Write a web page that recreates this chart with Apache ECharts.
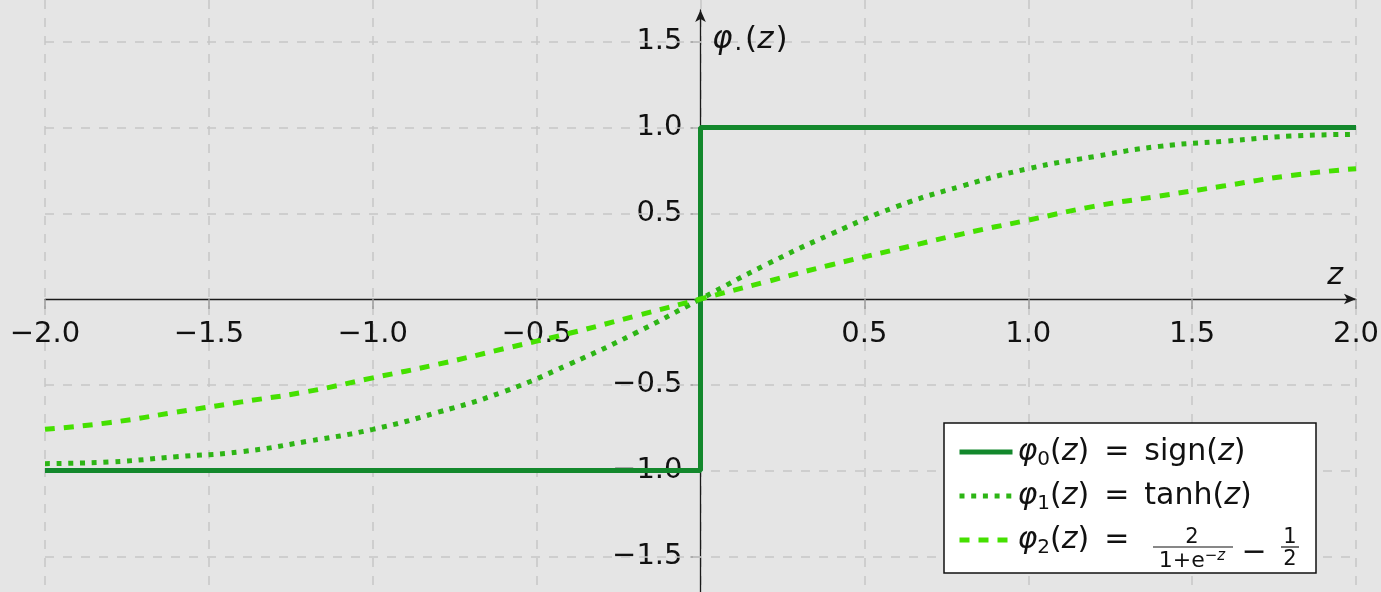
<!DOCTYPE html>
<html>
<head>
<meta charset="utf-8">
<script src="https://cdn.jsdelivr.net/npm/echarts@6/dist/echarts.min.js"></script>
<style>
html, body { margin: 0; padding: 0; background: #e5e5e5; }
#chart { width: 1381px; height: 592px; }
</style>
</head>
<body>
<div id="chart"></div>
<script>
// 数据
var zValues = [-2.0, -1.8, -1.6, -1.4, -1.2, -1.0, -0.8, -0.6, -0.4, -0.2, 0.0,
               0.2, 0.4, 0.6, 0.8, 1.0, 1.2, 1.4, 1.6, 1.8, 2.0];
var tanhValues = [-0.96, -0.95, -0.92, -0.89, -0.83, -0.76, -0.66, -0.54, -0.38, -0.20, 0.00,
                  0.20, 0.38, 0.54, 0.66, 0.76, 0.83, 0.89, 0.92, 0.95, 0.96];
var logisticValues = [-0.76, -0.72, -0.66, -0.60, -0.54, -0.46, -0.38, -0.29, -0.20, -0.10, 0.00,
                      0.10, 0.20, 0.29, 0.38, 0.46, 0.54, 0.60, 0.66, 0.72, 0.76];
var signZ = [-2, 0, 0, 2];
var signValues = [-1, -1, 1, 1];
var yTicks = [-1.5, -1.0, -0.5, 0.5, 1.0, 1.5];
var seriesNames = ['sign', 'tanh', 'logistic'];

var FONT = 'DejaVu Sans';
var TXT = '#111';
var GRIDLINE = { color: '#c6c6c6', width: 1.5, type: [9, 9] };
var EQ = '\u2002=\u2002';

function pairs(xs, ys) {
    return xs.map(function(x, i) { return [x, ys[i]]; });
}
function tickText(v) {
    if (Math.abs(v) < 1e-9) return '';
    return v.toFixed(1).replace('-', '\u2212');
}

var myChart = echarts.init(document.getElementById('chart'));

// 像素 299 处为 0, 每单位 171.5 像素
var yMinAll = -(592 - 299) / 171.5;
var yMaxAll = 299 / 171.5;
var yMaxPlot = (299 - 10) / 171.5;

var option = {
    backgroundColor: '#e5e5e5',
    animation: false,
    grid: [
        { left: 45, right: 25, top: 10, bottom: 0, outerBoundsMode: 'none', containLabel: false },  // 曲线
        { left: 45, right: 25, top: 0, bottom: 0, outerBoundsMode: 'none', containLabel: false }    // 背景网格
    ],
    xAxis: [{
        type: 'value', gridIndex: 0, min: -2, max: 2, interval: 0.5,
        position: 'bottom', offset: -293,
        axisLine: { onZero: false, lineStyle: { color: '#1a1a1a', width: 1.3 },
                    symbol: ['none', 'arrow'], symbolSize: [8, 12] },
        axisTick: { show: true, length: 10, lineStyle: { color: '#999', width: 1.5 } },
        splitLine: { show: false },
        axisLabel: { formatter: tickText, fontSize: 29, fontFamily: FONT, color: TXT, margin: 21 }
    }, {
        type: 'value', gridIndex: 1, min: -2, max: 2, interval: 0.5,
        axisLine: { show: false }, axisTick: { show: false }, axisLabel: { show: false },
        splitLine: { show: true, lineStyle: GRIDLINE }
    }],
    yAxis: [{
        type: 'value', gridIndex: 0, min: yMinAll, max: yMaxPlot,
        position: 'left', offset: -655.5,
        axisLine: { onZero: false, lineStyle: { color: '#1a1a1a', width: 1.3 },
                    symbol: ['none', 'arrow'], symbolSize: [8, 12] },
        axisTick: { show: true, length: 10, customValues: yTicks, lineStyle: { color: '#999', width: 1.5 } },
        splitLine: { show: false },
        axisLabel: { formatter: tickText, customValues: yTicks, fontSize: 29, fontFamily: FONT, color: TXT, margin: 18 }
    }, {
        type: 'value', gridIndex: 1, min: yMinAll, max: yMaxAll,
        axisLine: { show: false }, axisTick: { show: false }, axisLabel: { show: false },
        splitLine: { show: false }
    }],
    legend: {
        orient: 'vertical',
        left: 957, top: 434,
        padding: 0,
        itemGap: 8,
        itemWidth: 53, itemHeight: 14,
        data: seriesNames,
        itemStyle: { opacity: 0 },
        lineStyle: { width: 5 },
        formatter: function(name) {
            var i = seriesNames.indexOf(name);
            var tail = ['sign({it|z})', 'tanh({it|z})', ''][i];
            return '{it|\u03c6}{sub|' + i + '}({it|z})' + EQ + tail;
        },
        textStyle: {
            fontSize: 30, fontFamily: FONT, color: TXT, lineHeight: 36,
            rich: {
                it: { fontStyle: 'italic', fontSize: 30, fontFamily: FONT, color: TXT },
                sub: { fontSize: 20, fontFamily: FONT, color: TXT, verticalAlign: 'bottom', lineHeight: 30 }
            }
        }
    },
    graphic: [
        { type: 'rect', z: 3, shape: { x: 944, y: 423, width: 372, height: 150 },
          style: { fill: '#fff', stroke: '#111', lineWidth: 1.5 } },
        // 分式 2/(1+e^-z) - 1/2
        { type: 'text', z: 10, x: 1192, y: 538,
          style: { text: '2', fontSize: 21, fontFamily: FONT, fill: TXT, align: 'center', verticalAlign: 'middle' } },
        { type: 'line', z: 10, shape: { x1: 1153, y1: 547, x2: 1233, y2: 547 }, style: { stroke: TXT, lineWidth: 1.2 } },
        { type: 'text', z: 10, x: 1192, y: 561,
          style: { text: '1+e{sup|\u2212z}', fontSize: 22, fontFamily: FONT, fill: TXT, align: 'center', verticalAlign: 'middle',
                   rich: { sup: { fontSize: 15, fontStyle: 'italic', fontFamily: FONT, fill: TXT, verticalAlign: 'top', padding: [0, 0, 9, 0] } } } },
        { type: 'text', z: 10, x: 1254, y: 553,
          style: { text: '\u2212', fontSize: 30, fontFamily: FONT, fill: TXT, align: 'center', verticalAlign: 'middle' } },
        { type: 'text', z: 10, x: 1290, y: 538,
          style: { text: '1', fontSize: 21, fontFamily: FONT, fill: TXT, align: 'center', verticalAlign: 'middle' } },
        { type: 'line', z: 10, shape: { x1: 1281, y1: 547, x2: 1299, y2: 547 }, style: { stroke: TXT, lineWidth: 1.2 } },
        { type: 'text', z: 10, x: 1290, y: 560,
          style: { text: '2', fontSize: 21, fontFamily: FONT, fill: TXT, align: 'center', verticalAlign: 'middle' } },
        // 坐标轴名称
        { type: 'text', z: 10, x: 712, y: 40,
          style: { text: '{it|\u03c6}{sub|.}({it|z})', fontSize: 31, fontFamily: FONT, fill: TXT, verticalAlign: 'middle',
                   rich: { it: { fontStyle: 'italic', fontSize: 31, fontFamily: FONT, fill: TXT, padding: [0, 2, 0, 0] },
                           sub: { fontSize: 24, fontFamily: FONT, fill: TXT, verticalAlign: 'bottom', lineHeight: 30, padding: [0, 3, 0, 0] } } } },
        { type: 'text', z: 10, x: 1335, y: 276,
          style: { text: 'z', fontSize: 30, fontStyle: 'italic', fontFamily: FONT, fill: TXT, align: 'center', verticalAlign: 'middle' } }
    ],
    series: [{
        name: 'sign', type: 'line', xAxisIndex: 0, yAxisIndex: 0,
        data: pairs(signZ, signValues),
        symbol: 'none', z: 10,
        lineStyle: { color: '#13882c', width: 5 },
        itemStyle: { color: '#13882c' }
    }, {
        name: 'tanh', type: 'line', xAxisIndex: 0, yAxisIndex: 0,
        data: pairs(zValues, tanhValues),
        symbol: 'none', smooth: true, z: 10,
        lineStyle: { color: '#2db515', width: 5, type: [5, 6.7], cap: 'butt' },
        itemStyle: { color: '#2db515' }
    }, {
        name: 'logistic', type: 'line', xAxisIndex: 0, yAxisIndex: 0,
        data: pairs(zValues, logisticValues),
        symbol: 'none', smooth: true, z: 10,
        lineStyle: { color: '#45e000', width: 5, type: [10, 9], cap: 'butt' },
        itemStyle: { color: '#45e000' }
    }, {
        // 背景横向网格线
        name: 'hgrid', type: 'line', xAxisIndex: 1, yAxisIndex: 1, data: [], silent: true, z: 0,
        markLine: {
            silent: true, symbol: 'none', label: { show: false }, animation: false, z: 1,
            lineStyle: GRIDLINE,
            data: yTicks.map(function(v) { return { yAxis: v }; })
        }
    }]
};

myChart.setOption(option);
</script>
</body>
</html>
